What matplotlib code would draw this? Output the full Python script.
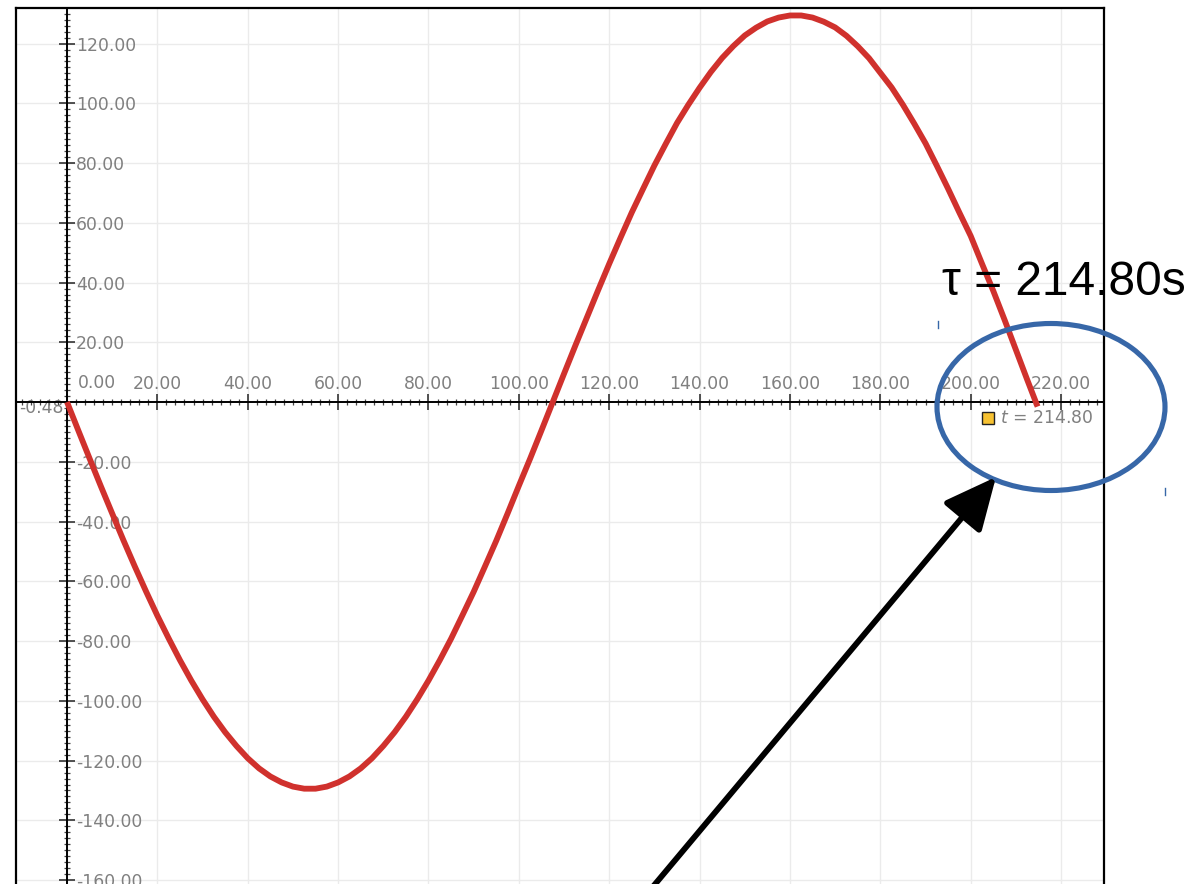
import numpy as np
import matplotlib.pyplot as plt
from matplotlib.ticker import MultipleLocator, FixedLocator
from matplotlib.patches import Ellipse, FancyArrowPatch
from matplotlib.lines import Line2D

plt.rcParams['axes.unicode_minus'] = False

# sampled curve, t in seconds (every 2.5 s, last point at the end time)
t = [0, 2.5, 5, 7.5, 10, 12.5, 15, 17.5, 20, 22.5, 25, 27.5, 30, 32.5, 35, 37.5,
     40, 42.5, 45, 47.5, 50, 52.5, 55, 57.5, 60, 62.5, 65, 67.5, 70, 72.5, 75, 77.5,
     80, 82.5, 85, 87.5, 90, 92.5, 95, 97.5, 100, 102.5, 105, 107.5, 110, 112.5,
     115, 117.5, 120, 122.5, 125, 127.5, 130, 132.5, 135, 137.5, 140, 142.5, 145,
     147.5, 150, 152.5, 155, 157.5, 160, 162.5, 165, 167.5, 170, 172.5, 175, 177.5,
     180, 182.5, 185, 187.5, 190, 192.5, 195, 197.5, 200, 202.5, 205, 207.5, 210,
     212.5, 214.8]
y = [0, -9.5, -18.9, -28.2, -37.3, -46.3, -55.0, -63.4, -71.5, -79.1, -86.4, -93.2,
     -99.5, -105.3, -110.5, -115.1, -119.2, -122.6, -125.3, -127.3, -128.7, -129.4,
     -129.4, -128.7, -127.3, -125.3, -122.6, -119.2, -115.1, -110.5, -105.3, -99.5,
     -93.2, -86.4, -79.2, -71.4, -63.5, -55.0, -46.4, -37.3, -28.0, -18.9, -9.5, 0.0,
     9.5, 18.9, 28.1, 37.3, 46.3, 55.0, 63.5, 71.4, 79.2, 86.4, 93.4, 99.5, 105.2,
     110.5, 115.2, 119.2, 122.7, 125.3, 127.4, 128.7, 129.4, 129.4, 128.7, 127.3,
     125.4, 122.6, 119.1, 115.1, 110.2, 105.3, 99.5, 93.2, 86.6, 79.1, 71.4, 63.4,
     55.6, 46.3, 37.2, 27.5, 17.5, 7.5, -1.5]

x_ticks = list(range(0, 221, 20))
y_ticks = [v for v in range(-160, 121, 20) if v != 0]
t_end = 214.80
start_label = '-0.48'

W, H = 1193, 884
fig = plt.figure(figsize=(W / 100, H / 100), dpi=100)
ax = fig.add_axes([16 / W, 0, (1104 - 16) / W, (884 - 8) / H])
ax.set_xlim(-11.29, 229.5)
ax.set_ylim(-161.3, 131.9)

gray = '#808080'

# axes through the origin
ax.spines['bottom'].set_visible(False)
ax.spines['top'].set_position(('data', 0))
ax.spines['right'].set_position(('data', 0))
ax.spines['left'].set_linewidth(1.6)
for s in ('top', 'right'):
    ax.spines[s].set_linewidth(1.4)
    ax.spines[s].set_zorder(2.5)
ax.add_line(Line2D([0, 1], [1, 1], transform=ax.transAxes, color='k', lw=1.6, clip_on=False))
ax.add_line(Line2D([1, 1], [0, 1], transform=ax.transAxes, color='k', lw=1.6, clip_on=False))

ax.xaxis.tick_top()
ax.yaxis.tick_right()
ax.xaxis.set_major_locator(FixedLocator(x_ticks))
ax.yaxis.set_major_locator(FixedLocator(y_ticks))
ax.set_xticklabels([''] + ['%.2f' % v for v in x_ticks[1:]])
ax.set_yticklabels(['%.2f' % v for v in y_ticks])
ax.xaxis.set_minor_locator(MultipleLocator(2))
ax.yaxis.set_minor_locator(MultipleLocator(2))
ax.tick_params(which='major', direction='inout', length=11, width=1.2, color='#333333',
               labelsize=12.4, labelcolor=gray, pad=1)
ax.tick_params(which='minor', direction='inout', length=4, width=0.9, color='#444444')

ax.grid(True, which='major', color='#ebebeb', lw=1)
ax.set_axisbelow(True)

ax.text(2.4, 3.3, '0.00', ha='left', va='bottom', fontsize=12.4, color=gray)
ax.text(-0.7, -2.0, start_label, ha='right', va='center', fontsize=12.4, color=gray, zorder=1)

ax.plot(t, y, color='#d0312d', lw=4.2, solid_capstyle='butt', solid_joinstyle='round', zorder=3)

# end marker and its label
ax.plot([203.8], [-5.4], marker='s', ms=8, mfc='#f7c232', mec='#222222', mew=1, zorder=4)
ax.text(206.4, -5.4, r'$t$ = %.2f' % t_end, ha='left', va='center', fontsize=12.4, color=gray)

# callout
def fx(px):
    return px / W

def fy(py):
    return 1 - py / H

fig.text(fx(942), fy(295), '\u03c4 = %.2fs' % t_end, fontsize=34.5, color='k',
         family=['Liberation Sans', 'DejaVu Sans'], va='baseline', ha='left')

fig.add_artist(Ellipse((fx(1051), fy(407)), 228 / W, 167 / H, transform=fig.transFigure,
                       fill=False, ec='#3767a8', lw=3.7))
fig.add_artist(Line2D([fx(938)] * 2, [fy(321), fy(328)], color='#3767a8', lw=1))
fig.add_artist(Line2D([fx(1165)] * 2, [fy(488), fy(495)], color='#3767a8', lw=1))

fig.add_artist(FancyArrowPatch((fx(651), fy(889)), (fx(996), fy(477)),
                               transform=fig.transFigure, arrowstyle='-|>,head_length=3.2,head_width=1.5',
                               mutation_scale=10, color='k', lw=4.2, shrinkA=0, shrinkB=0))

fig.savefig('out.png', dpi=100)
